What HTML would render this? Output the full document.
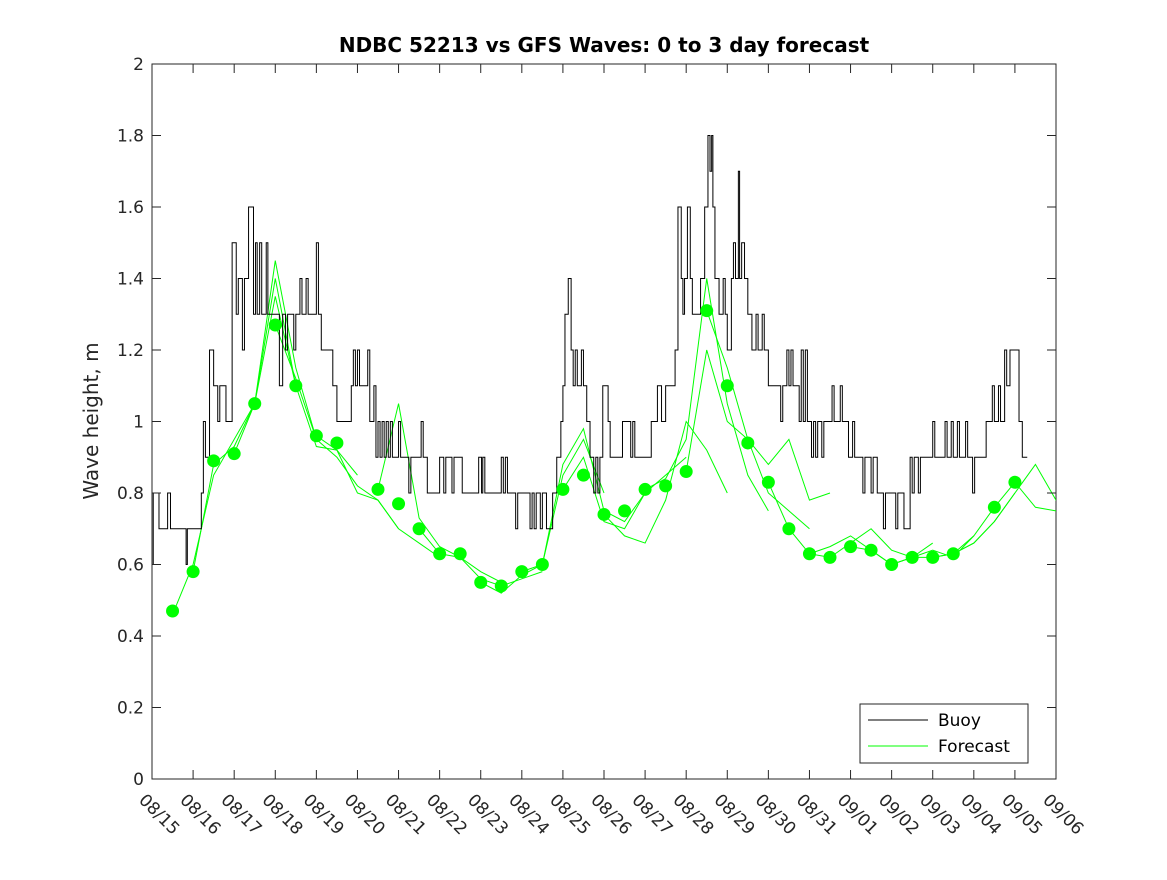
<!DOCTYPE html>
<html><head><meta charset="utf-8"><style>
body{margin:0;background:#fff}
svg{font-family:"DejaVu Sans","Liberation Sans",sans-serif}
</style></head><body>
<svg id="c" width="1167" height="875"></svg>
<script>
const dayTicks=["08/15","08/16","08/17","08/18","08/19","08/20","08/21","08/22","08/23","08/24","08/25","08/26","08/27","08/28","08/29","08/30","08/31","09/01","09/02","09/03","09/04","09/05","09/06"];
const yTicks=[0,0.2,0.4,0.6,0.8,1,1.2,1.4,1.6,1.8,2];
const buoyDays=[15.0,15.03,15.17,15.38,15.45,15.83,15.86,16.2,16.25,16.3,16.4,16.5,16.6,16.65,16.8,16.95,17.05,17.1,17.2,17.25,17.35,17.47,17.52,17.56,17.62,17.67,17.78,17.82,18.1,18.18,18.25,18.3,18.45,18.5,18.6,18.65,18.75,18.8,19.0,19.05,19.12,19.4,19.5,19.85,19.9,19.95,20.0,20.05,20.25,20.3,20.4,20.45,20.5,20.55,20.6,20.65,20.7,20.75,20.8,20.85,21.0,21.05,21.25,21.3,21.55,21.6,21.7,22.0,22.1,22.15,22.3,22.35,22.55,22.95,23.02,23.05,23.1,23.5,23.55,23.6,23.65,23.85,23.9,24.2,24.25,24.3,24.35,24.45,24.5,24.6,24.75,24.85,24.95,25.0,25.05,25.13,25.2,25.25,25.3,25.35,25.45,25.5,25.58,25.66,25.75,25.8,25.85,25.9,25.97,26.1,26.15,26.45,26.65,26.7,26.75,27.15,27.3,27.4,27.5,27.73,27.8,27.88,27.92,27.96,28.03,28.1,28.15,28.3,28.35,28.45,28.53,28.58,28.62,28.65,28.7,28.8,28.9,28.95,29.0,29.1,29.15,29.2,29.27,29.3,29.35,29.42,29.5,29.6,29.7,29.75,29.85,29.9,30.0,30.3,30.35,30.45,30.5,30.55,30.6,30.75,30.8,30.85,30.9,30.95,31.05,31.1,31.15,31.2,31.3,31.35,31.55,31.6,31.75,31.8,31.95,32.05,32.1,32.3,32.35,32.5,32.55,32.65,32.8,32.85,33.1,33.15,33.3,33.45,33.5,33.55,33.65,33.7,34.0,34.05,34.3,34.35,34.45,34.5,34.6,34.65,34.8,34.85,34.97,35.02,35.3,35.45,35.5,35.6,35.65,35.75,35.8,35.88,36.1,36.18,36.3];
const buoyValues=[0.6,0.8,0.7,0.8,0.7,0.6,0.7,0.8,1.0,0.9,1.2,1.1,1.0,1.1,1.0,1.5,1.3,1.4,1.2,1.4,1.6,1.3,1.5,1.3,1.5,1.3,1.5,1.3,1.1,1.3,1.2,1.3,1.2,1.3,1.4,1.3,1.4,1.3,1.5,1.3,1.2,1.1,1.0,1.1,1.2,1.1,1.2,1.1,1.2,1.0,1.1,0.9,1.0,0.9,1.0,0.9,1.0,0.9,1.0,0.9,1.0,0.9,0.8,0.9,1.0,0.9,0.8,0.9,0.8,0.9,0.8,0.9,0.8,0.9,0.8,0.9,0.8,0.9,0.8,0.9,0.8,0.7,0.8,0.7,0.8,0.7,0.8,0.7,0.8,0.7,0.8,0.9,1.0,1.1,1.3,1.4,1.2,1.1,1.2,1.1,1.2,1.1,1.0,0.9,0.8,0.9,0.8,0.9,1.1,1.0,0.9,1.0,0.9,1.0,0.9,1.0,1.1,1.0,1.1,1.2,1.6,1.4,1.3,1.4,1.6,1.4,1.3,1.3,1.4,1.6,1.8,1.7,1.8,1.6,1.4,1.3,1.4,1.3,1.2,1.4,1.5,1.4,1.7,1.4,1.5,1.4,1.3,1.2,1.3,1.2,1.3,1.2,1.1,1.0,1.1,1.2,1.1,1.2,1.1,1.0,1.2,1.0,1.2,1.0,0.9,1.0,0.9,1.0,0.9,1.0,1.1,1.0,1.1,1.0,0.9,1.0,0.9,0.8,0.9,0.8,0.9,0.8,0.7,0.8,0.7,0.8,0.7,0.9,0.8,0.9,0.8,0.9,1.0,0.9,1.0,0.9,1.0,0.9,1.0,0.9,1.0,0.9,0.8,0.9,1.0,1.1,1.0,1.1,1.0,1.2,1.1,1.2,1.0,0.9,0.9];
const dotDays=[15.5,16,16.5,17,17.5,18,18.5,19,19.5,20.5,21,21.5,22,22.5,23,23.5,24,24.5,25,25.5,26,26.5,27,27.5,28,28.5,29,29.5,30,30.5,31,31.5,32,32.5,33,33.5,34,34.5,35.5,36];
const dotValues=[0.47,0.58,0.89,0.91,1.05,1.27,1.10,0.96,0.94,0.81,0.77,0.70,0.63,0.63,0.55,0.54,0.58,0.60,0.81,0.85,0.74,0.75,0.81,0.82,0.86,1.31,1.10,0.94,0.83,0.70,0.63,0.62,0.65,0.64,0.60,0.62,0.62,0.63,0.76,0.83];
const fcStarts=[15.5,16,17,18,19,20.5,21.5,23,24,25,26,27,28,28.5,30,31,32,33,34,34.5];
const fcValues=[
[0.46,0.60,0.85,0.95,1.05,1.40,1.10],
[0.58,0.88,0.93,1.05,1.45,1.15,0.95],
[0.91,1.05,1.35,1.10,0.93,0.92,0.85],
[1.27,1.12,0.95,0.90,0.82,0.78,0.70],
[0.96,0.92,0.80,0.78,0.70,0.66,0.62],
[0.81,1.05,0.73,0.65,0.62,0.58,0.55],
[0.70,0.63,0.62,0.56,0.54,0.56,0.58],
[0.55,0.52,0.57,0.60,0.85,0.95,0.80],
[0.58,0.60,0.88,0.98,0.75,0.72,0.80],
[0.81,0.90,0.72,0.70,0.80,0.85,0.90],
[0.74,0.68,0.66,0.78,1.00,0.92,0.80],
[0.81,0.84,0.95,1.40,1.05,0.85,0.75],
[0.86,1.20,1.00,0.95,0.80,0.75,0.70],
[1.31,1.15,0.95,0.88,0.95,0.78,0.80],
[0.83,0.70,0.63,0.65,0.68,0.64,0.60],
[0.63,0.62,0.66,0.70,0.64,0.62,0.66],
[0.65,0.64,0.60,0.62,0.64,0.62,0.68],
[0.60,0.62,0.62,0.63,0.66,0.72,0.80],
[0.62,0.63,0.68,0.76,0.83,0.76,0.75],
[0.63,0.66,0.72,0.80,0.88,0.78,0.80]];
const fcStep=0.5;

const svg=document.getElementById('c');const NS='http://www.w3.org/2000/svg';
const L=152,R=1056,T=64,B=779,d0=15,d1=37;
const X=d=>L+(d-d0)/(d1-d0)*(R-L), Y=v=>B-v/2*(B-T);
function el(t,a,p){const e=document.createElementNS(NS,t);for(const k in a)e.setAttribute(k,a[k]);(p||svg).appendChild(e);return e;}
const bg=el('rect',{x:L,y:T,width:R-L,height:B-T,fill:'#fff',stroke:'#262626','stroke-width':1});


const clip=el('clipPath',{id:'cp'});el('rect',{x:L,y:T,width:R-L,height:B-T},clip);
const g=el('g',{'clip-path':'url(#cp)'});


yTicks.forEach(v=>{
  el('line',{x1:L,x2:L+9,y1:Y(v),y2:Y(v),stroke:'#262626'});el('line',{x1:R,x2:R-9,y1:Y(v),y2:Y(v),stroke:'#262626'});
  const t=el('text',{x:L-8,y:Y(v)+6,'text-anchor':'end','font-size':17,fill:'#262626'});t.textContent=String(v);
  
  
});
dayTicks.forEach((s,i)=>{
  const x=X(d0+i);
  el('line',{x1:x,x2:x,y1:B,y2:B-9,stroke:'#262626'});el('line',{x1:x,x2:x,y1:T,y2:T+9,stroke:'#262626'});
  const t=el('text',{x:x-14,y:B+22,'font-size':17,fill:'#262626',transform:`rotate(45 ${x-14} ${B+22})`});t.textContent=s;
  
  
});
fcValues.forEach((arr,k)=>{
  const pts=arr.map((v,i)=>X(fcStarts[k]+i*fcStep)+','+Y(v)).join(' ');
  const p=el('polyline',{points:pts,fill:'none',stroke:'#00ff00','stroke-width':1},g);
  
  
});
let bp='';buoyValues.forEach((v,i)=>{const x0=X(buoyDays[i]);const x1=i<buoyDays.length-1?X(buoyDays[i+1]):x0;bp+=(i?' L':'M')+x0+','+Y(v)+' L'+x1+','+Y(v);});
const bl=el('path',{d:bp,fill:'none',stroke:'#000','stroke-width':1},g);


dotDays.forEach((d,i)=>{
  const c=el('circle',{cx:X(d),cy:Y(dotValues[i]),r:6.5,fill:'#00ff00'},g);
  
  
});
const ti=el('text',{x:604,y:52,'text-anchor':'middle','font-size':20,'font-weight':'bold',fill:'#000'});ti.textContent='NDBC 52213 vs GFS Waves: 0 to 3 day forecast';


const yl=el('text',{x:98,y:421,'text-anchor':'middle','font-size':20,fill:'#262626',transform:'rotate(-90 98 421)'});yl.textContent='Wave height, m';


const lg=el('g',{});


el('rect',{x:860,y:704,width:168,height:59,fill:'#fff',stroke:'#262626'},lg);
el('line',{x1:868,x2:928,y1:720,y2:720,stroke:'#000'},lg);
el('line',{x1:868,x2:928,y1:746,y2:746,stroke:'#00ff00'},lg);
const t1=el('text',{x:938,y:726,'font-size':17,fill:'#000'},lg);t1.textContent='Buoy';


const t2=el('text',{x:938,y:752,'font-size':17,fill:'#000'},lg);t2.textContent='Forecast';


</script>
</body></html>
